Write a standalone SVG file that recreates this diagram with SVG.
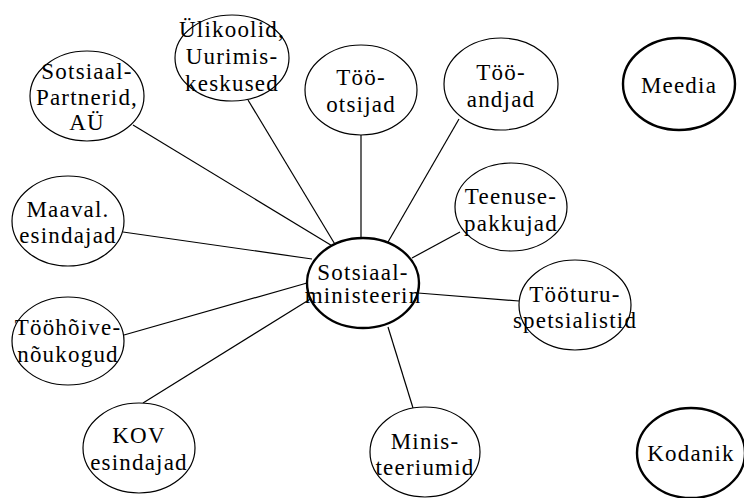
<svg xmlns="http://www.w3.org/2000/svg" width="744" height="498" viewBox="0 0 744 498">
  <style>
    .node { fill: #ffffff; stroke: #000000; stroke-width: 1.2; }
    .hub { fill: #ffffff; stroke: #000000; stroke-width: 2.4; }
    .lbl { font-family: "Liberation Serif", "Times New Roman", serif; font-size: 23px; letter-spacing: 1.2px; fill: #000000; text-anchor: middle; }
    .links line { stroke: #000000; stroke-width: 1.2; }
  </style>
  <rect width="744" height="498" fill="#ffffff"/>

  <!-- connectors from the ministry to each partner -->
  <g id="connectors" class="links">
    <line x1="133" y1="125" x2="334" y2="247"/>
    <line x1="248" y1="100" x2="336" y2="246"/>
    <line x1="361" y1="135" x2="361" y2="238"/>
    <line x1="459" y1="119" x2="388" y2="242"/>
    <line x1="460" y1="232" x2="412" y2="258"/>
    <line x1="123" y1="232" x2="312" y2="259"/>
    <line x1="124" y1="335" x2="307" y2="283"/>
    <line x1="143" y1="403" x2="312" y2="298"/>
    <line x1="388" y1="327" x2="413" y2="408"/>
    <line x1="418" y1="293" x2="519" y2="301"/>
  </g>

  <g id="sotsiaalpartnerid">
    <ellipse class="node" cx="87" cy="96" rx="57" ry="45"/>
    <text class="lbl" x="87" y="79">Sotsiaal-</text>
    <text class="lbl" x="87" y="105">Partnerid,</text>
    <text class="lbl" x="87" y="130">AÜ</text>
  </g>

  <g id="ulikoolid">
    <ellipse class="node" cx="232" cy="58" rx="57" ry="43"/>
    <text class="lbl" x="232" y="37">Ülikoolid,</text>
    <text class="lbl" x="232" y="64">Uurimis-</text>
    <text class="lbl" x="232" y="91">keskused</text>
  </g>

  <g id="toootsijad">
    <ellipse class="node" cx="361" cy="90" rx="56" ry="45"/>
    <text class="lbl" x="361" y="85">Töö-</text>
    <text class="lbl" x="361" y="112">otsijad</text>
  </g>

  <g id="tooandjad">
    <ellipse class="node" cx="501" cy="84" rx="57" ry="46"/>
    <text class="lbl" x="501" y="80">Töö-</text>
    <text class="lbl" x="501" y="107">andjad</text>
  </g>

  <g id="meedia">
    <ellipse class="hub" cx="679" cy="84" rx="56" ry="46"/>
    <text class="lbl" x="679" y="93">Meedia</text>
  </g>

  <g id="teenusepakkujad">
    <ellipse class="node" cx="511" cy="207" rx="56" ry="44"/>
    <text class="lbl" x="511" y="204">Teenuse-</text>
    <text class="lbl" x="511" y="231">pakkujad</text>
  </g>

  <g id="maaval">
    <ellipse class="node" cx="68" cy="221" rx="56" ry="45"/>
    <text class="lbl" x="68" y="217">Maaval.</text>
    <text class="lbl" x="68" y="243">esindajad</text>
  </g>

  <g id="ministeerium">
    <ellipse class="hub" cx="363" cy="283" rx="56" ry="45"/>
    <text class="lbl" x="363" y="280">Sotsiaal-</text>
    <text class="lbl" x="363" y="303">ministeerin</text>
  </g>

  <g id="toohoivenoukogud">
    <ellipse class="node" cx="68" cy="341" rx="56" ry="44"/>
    <text class="lbl" x="68" y="335">Tööhõive-</text>
    <text class="lbl" x="68" y="362">nõukogud</text>
  </g>

  <g id="tooturuspetsialistid">
    <ellipse class="node" cx="575" cy="305" rx="56" ry="45"/>
    <text class="lbl" x="575" y="302">Tööturu-</text>
    <text class="lbl" x="575" y="328">spetsialistid</text>
  </g>

  <g id="kov">
    <ellipse class="node" cx="139" cy="448" rx="56" ry="45"/>
    <text class="lbl" x="139" y="443">KOV</text>
    <text class="lbl" x="139" y="470">esindajad</text>
  </g>

  <g id="ministeeriumid">
    <ellipse class="node" cx="425" cy="452" rx="55" ry="45"/>
    <text class="lbl" x="425" y="449">Minis-</text>
    <text class="lbl" x="425" y="475">teeriumid</text>
  </g>

  <g id="kodanik">
    <ellipse class="hub" cx="691" cy="453" rx="54" ry="45"/>
    <text class="lbl" x="691" y="461">Kodanik</text>
  </g>
</svg>
